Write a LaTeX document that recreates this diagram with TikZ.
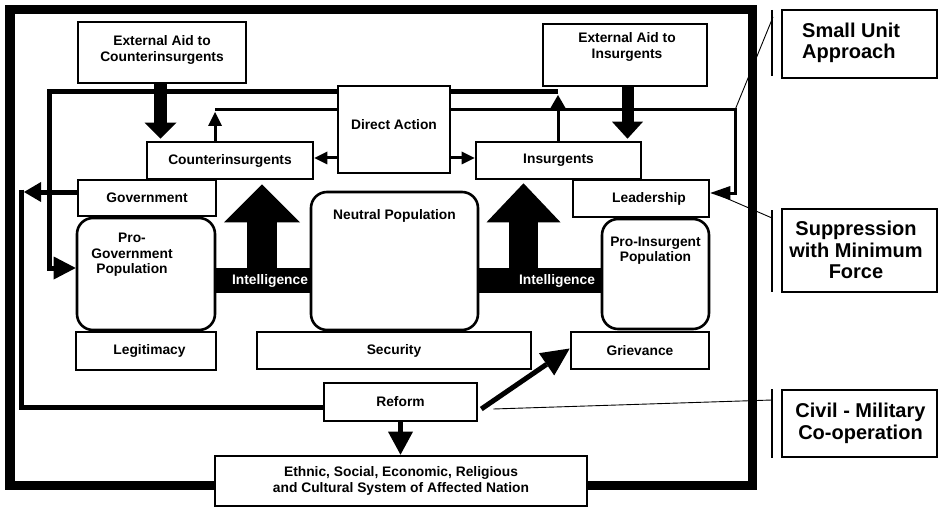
\documentclass[tikz,border=0pt]{standalone}
\usepackage{fontspec}
\setmainfont{Liberation Sans}
\usetikzlibrary{arrows.meta,backgrounds}

\begin{document}
\begin{tikzpicture}[x=1pt,y=-1pt,
  txt/.style={font=\fontsize{13.8}{15.5}\selectfont\bfseries, align=center, inner sep=0pt},
  box/.style={draw, line width=2.6pt, fill=white, inner sep=0pt, txt},
  popbox/.style={box, rounded corners=16pt},
  sidetxt/.style={font=\fontsize{20}{21.5}\selectfont\bfseries, inner sep=0pt},
  sidebox/.style={draw, line width=1.4pt, inner sep=0pt},
  intelbar/.style={fill=black, inner sep=0pt},
  inteltxt/.style={txt, text=white},
  frameline/.style={line width=9.5pt},
  heavy/.style={line width=5pt},
  light/.style={line width=3pt},
  hair/.style={line width=0.9pt},
  barline/.style={line width=1.3pt},
]
\useasboundingbox (0,0) rectangle (940,508);

% ---------- boxes of the system ----------
\node[box, minimum width=168pt, minimum height=61pt] (extC) at (162,52.5) {};
\node[txt] (extCtext) at (162,50) {External Aid to\\Counterinsurgents};
\node[box, minimum width=164pt, minimum height=62pt] (extI) at (625,55) {};
\node[txt] (extItext) at (627,47) {External Aid to\\Insurgents};
\node[box, minimum width=112pt, minimum height=87pt] (direct) at (394,129.5) {};
\node[txt] (directtext) at (394,125) {Direct Action};
\node[box, minimum width=166pt, minimum height=37pt] (counter) at (230,160.5) {Counterinsurgents};
\node[box, minimum width=165pt, minimum height=37pt] (insur) at (558.5,160.5) {Insurgents};
\node[box, minimum width=138pt, minimum height=36pt] (gov) at (147,198) {Government};
\node[box, minimum width=136pt, minimum height=37pt] (lead) at (641,198.5) {};
\node[txt] (leadtext) at (649,198.5) {Leadership};
\node[popbox, minimum width=138pt, minimum height=112pt] (progov) at (146,274) {};
\node[txt] (progovtext) at (132,255) {Pro-\\Government\\Population};
\node[popbox, minimum width=167pt, minimum height=138pt] (neutral) at (394.5,261) {};
\node[txt] (neutraltext) at (394.5,216) {Neutral Population};
\node[popbox, minimum width=107pt, minimum height=110pt] (proins) at (655.5,274) {};
\node[txt] (proinstext) at (655.5,250.5) {Pro-Insurgent\\Population};
\node[box, minimum width=140pt, minimum height=38pt] (legit) at (146,351) {};
\node[txt] (legittext) at (149.5,351) {Legitimacy};
\node[box, minimum width=274pt, minimum height=37pt] (secur) at (394,350.5) {Security};
\node[box, minimum width=138pt, minimum height=37pt] (griev) at (640,350.5) {Grievance};
\node[box, minimum width=153pt, minimum height=38pt] (reform) at (400.5,402) {Reform};
\node[box, minimum width=372pt, minimum height=50pt] (ethnic) at (401,481) {Ethnic, Social, Economic, Religious\\and Cultural System of Affected Nation};

% ---------- intelligence bars ----------
\node[intelbar, minimum width=96pt, minimum height=25pt] (intelL) at (263,280.5) {};
\node[inteltxt] (intelLtext) at (270,281) {Intelligence};
\node[intelbar, minimum width=124pt, minimum height=25pt] (intelR) at (540,280.5) {};
\node[inteltxt] (intelRtext) at (557,281) {Intelligence};

% ---------- side labels ----------
\node[sidebox, minimum width=155pt, minimum height=68pt] (sua) at (859.5,44) {};
\node[sidetxt, align=left, anchor=west] (suatext) at (802,43) {Small Unit\\Approach};
\node[sidebox, minimum width=155pt, minimum height=83pt] (smf) at (859.5,250.5) {};
\node[sidetxt, align=center] (smftext) at (856,250) {Suppression\\with Minimum\\Force};
\node[sidebox, minimum width=155pt, minimum height=67pt] (cmc) at (859.5,423.5) {};
\node[sidetxt, align=center] (cmctext) at (860.5,423.5) {Civil - Military\\Co-operation};

\coordinate (suaT) at (772,10);  \coordinate (suaB) at (772,76);
\coordinate (smfT) at (772,210); \coordinate (smfB) at (772,292);
\coordinate (cmcT) at (772,389); \coordinate (cmcB) at (772,458);
\draw[barline] (suaT) -- (suaB);
\draw[barline] (smfT) -- (smfB);
\draw[barline] (cmcT) -- (cmcB);

% ---------- outer frame round the whole system ----------
\draw[frameline] ([yshift=-4.5pt]ethnic.west) -- (10,485.5) -- (10,9.5)
  -- (752.5,9.5) -- (752.5,485.5) -- ([yshift=-4.5pt]ethnic.east);

% ---------- feedback loops running behind Direct Action ----------
\coordinate (loopNE) at (735,110);
\begin{pgfonlayer}{background}
  \draw[heavy, -{Triangle[width=23pt,length=22pt,line width=0pt]}]
    (558,92) -- (49,92) -- (49,268) -- (progov.west |- 0,268);
  \draw[light, -{Triangle[width=14pt,length=20pt,line width=0pt]}]
    (215,110) -- (loopNE) -- (735,193) -- (lead.east |- 0,193);
\end{pgfonlayer}
\draw[light, -{Triangle[width=15pt,length=13pt,line width=0pt]}]
  (insur.north -| 558,0) -- (558,95);
\draw[light, -{Triangle[width=14pt,length=14pt,line width=0pt]}]
  (counter.north -| 215,0) -- (215,112);

% ---------- government to reform loop ----------
\draw[heavy, -{Triangle[width=20pt,length=17pt,line width=0pt]}]
  (gov.west |- 0,192) -- (24,192);
\draw[heavy] (21,189.5) -- (21,407.5) -- (reform.west |- 0,407.5);

% ---------- direct action ----------
\draw[light, -{Triangle[width=13pt,length=13pt,line width=0pt]}]
  (direct.west |- 0,158) -- (counter.east |- 0,158);
\draw[light, -{Triangle[width=13pt,length=13pt,line width=0pt]}]
  (direct.east |- 0,158) -- (insur.west |- 0,158);

% ---------- external aid ----------
\draw[line width=13pt, -{Triangle[width=32pt,length=16pt,line width=0pt]}, shorten >=2pt]
  (extC.south -| 160.5,0) -- (counter.north -| 160.5,0);
\draw[line width=12pt, -{Triangle[width=31pt,length=17pt,line width=0pt]}, shorten >=2pt]
  (extI.south -| 627.5,0) -- (insur.north -| 627.5,0);

% ---------- intelligence flows ----------
\draw[line width=30pt, -{Triangle[width=76pt,length=38pt,line width=0pt]}, shorten >=4pt]
  (intelL.north -| 262,0) -- (counter.south -| 262,0);
\draw[line width=29pt, -{Triangle[width=74pt,length=39pt,line width=0pt]}, shorten >=3pt]
  (intelR.north -| 523.5,0) -- (insur.south -| 523.5,0);

% ---------- reform ----------
\draw[heavy, -{Triangle[width=25pt,length=23pt,line width=0pt]}]
  (reform.south) -- (reform.south |- ethnic.north);
\draw[heavy, -{Triangle[width=27pt,length=28pt,line width=0pt]}]
  ([xshift=3pt,yshift=-7pt]reform.east) -- ([yshift=2pt]griev.west);

% ---------- links from the side labels ----------
\draw[hair] (773,17) -- (loopNE);
\draw[hair] (772,218) -- ([xshift=4pt,yshift=5.5pt]lead.east);
\draw[hair] (772,400) -- ([xshift=15pt,yshift=-7pt]reform.east);
\end{tikzpicture}
\end{document}
